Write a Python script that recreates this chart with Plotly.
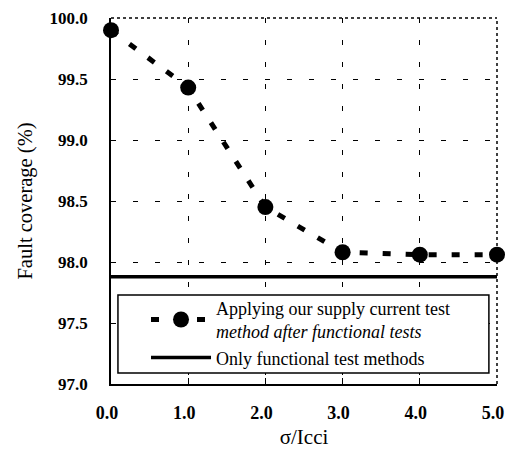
import plotly.graph_objects as go

x_vals = [0.0, 1.0, 2.0, 3.0, 4.0, 5.0]
supply_current = [99.90, 99.43, 98.45, 98.08, 98.06, 98.06]
functional_only = [97.88, 97.88, 97.88, 97.88, 97.88, 97.88]
x_ticks = [0.0, 1.0, 2.0, 3.0, 4.0, 5.0]
x_tick_text = ["0.0", "1.0", "2.0", "3.0", "4.0", "5.0"]
y_ticks = [97.0, 97.5, 98.0, 98.5, 99.0, 99.5, 100.0]
y_tick_text = ["97.0", "97.5", "98.0", "98.5", "99.0", "99.5", "100.0"]

serif = "Liberation Serif"

fig = go.Figure()
fig.add_trace(go.Scatter(
    x=x_vals, y=supply_current, mode="lines+markers",
    name="Applying our supply current test<br><i>method after functional tests</i>",
    line=dict(color="black", width=5, dash="8px,15px"),
    marker=dict(color="black", size=16),
    cliponaxis=False,
))
fig.add_trace(go.Scatter(
    x=x_vals, y=functional_only, mode="lines",
    name="Only functional test methods",
    line=dict(color="black", width=3.5),
    cliponaxis=False,
))

fig.update_layout(
    template="none",
    width=497, height=441,
    margin=dict(l=103, r=8, t=10, b=65, autoexpand=False),
    paper_bgcolor="white", plot_bgcolor="white",
    font=dict(family=serif, color="black", size=16),
    showlegend=True,
    legend=dict(
        x=0.0907, y=0.258, xanchor="left", yanchor="top",
        borderwidth=0, bgcolor="rgba(0,0,0,0)",
        font=dict(family=serif, size=18, color="black"),
        tracegroupgap=0, itemwidth=60,
    ),
    xaxis=dict(
        range=[0, 5], tickvals=x_ticks, ticktext=x_tick_text,
        showgrid=True, gridcolor="black", griddash="5px,17px", gridwidth=1,
        showline=True, linecolor="black", linewidth=1.5,
        ticks="inside", ticklen=6, tickcolor="black",
        tickfont=dict(family=serif, size=18, color="black", weight="bold"),
        ticklabelstandoff=12, ticklabelshift=-4,
        title=dict(text="σ/Icci", font=dict(family=serif, size=21), standoff=19),
        zeroline=False, automargin=False,
    ),
    yaxis=dict(
        range=[97, 100], tickvals=y_ticks, ticktext=y_tick_text,
        showgrid=True, gridcolor="black", griddash="5px,17px", gridwidth=1,
        showline=True, linecolor="black", linewidth=1.5,
        ticks="inside", ticklen=5, tickcolor="black",
        tickfont=dict(family=serif, size=17, color="black", weight="bold"),
        ticklabelstandoff=18,
        title=dict(text="Fault coverage (%)", font=dict(family=serif, size=20.5), standoff=11),
        zeroline=False, automargin=False,
    ),
    shapes=[
        dict(type="line", xref="paper", yref="paper", x0=0, x1=1, y0=1, y1=1,
             line=dict(color="black", width=1.5, dash="dot")),
        dict(type="line", xref="paper", yref="paper", x0=1, x1=1, y0=0, y1=1,
             line=dict(color="black", width=1.5, dash="dot")),
        dict(type="rect", xref="paper", yref="paper", x0=0.018, x1=0.979, y0=0.03, y1=0.243,
             line=dict(color="black", width=1.5), fillcolor="white", layer="above"),
    ],
)

fig.write_html("out.html")
